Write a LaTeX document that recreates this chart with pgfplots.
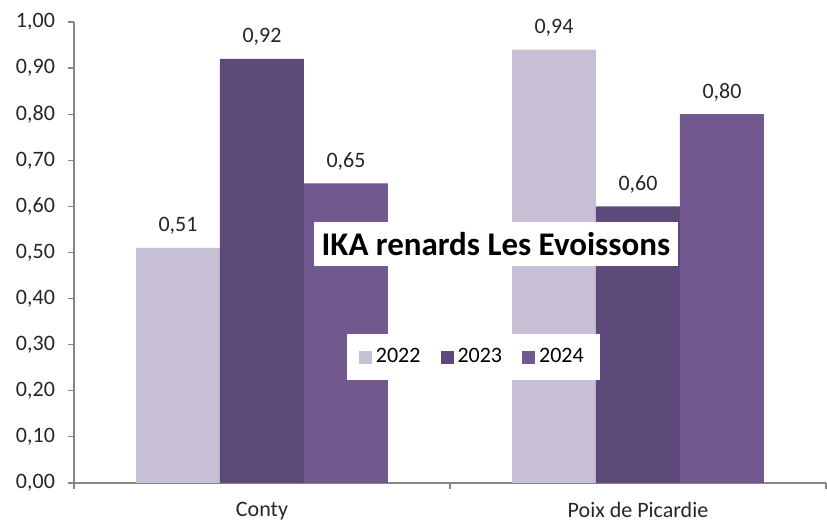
\documentclass[border=0pt]{standalone}
\usepackage{fontspec}
\setmainfont{Carlito}
\usepackage{pgfplots}
\pgfplotsset{compat=1.18}
\definecolor{c22}{HTML}{C7BFD6}
\definecolor{c23}{HTML}{5E4A7A}
\definecolor{c24}{HTML}{71588F}
\definecolor{axgray}{HTML}{868686}
\begin{document}
\begin{tikzpicture}
\path[use as bounding box] (-37pt,-19.5pt) rectangle (376.5pt,241.5pt);
\begin{axis}[
  at={(0,0)}, anchor=south west,
  scale only axis, width=376pt, height=230.5pt,
  xmin=-0.5, xmax=1.5, ymin=0, ymax=1,
  axis lines*=left,
  axis line style={axgray, line width=0.6pt},
  tick align=outside,
  xtick={0,1}, xticklabels={Conty, Poix de Picardie},
  major x tick style={draw=none},
  minor xtick={-0.5,0.5,1.5},
  minor tick length=3pt,
  major tick length=3pt,
  tick style={axgray, line width=0.6pt},
  ytick={0,0.1,0.2,0.3,0.4,0.5,0.6,0.7,0.8,0.9,1.0},
  y tick label style={/pgf/number format/fixed, /pgf/number format/fixed zerofill, /pgf/number format/precision=2, /pgf/number format/use comma, /pgf/number format/assume math mode=true, xshift=-3pt},
  ticklabel style={font=\fontsize{11}{13}\selectfont, text=black!85},
  xticklabel style={yshift=-3pt},
  nodes near coords={\pgfmathprintnumber[fixed,fixed zerofill,precision=2,use comma,assume math mode=true]{\pgfplotspointmeta}},
  every node near coord/.append style={font=\fontsize{11}{13}\selectfont, text=black!85, anchor=south, yshift=3pt},
  legend columns=3,
  legend image code/.code={\fill[#1] (0pt,-3.2pt) rectangle (6.5pt,3.2pt);},
  legend style={at={(rel axis cs:0.531,0.273)}, anchor=center, draw=none, fill=white,
    font=\fontsize{11}{13}\selectfont, inner xsep=6pt, inner ysep=5pt,
    /tikz/every even column/.append style={column sep=8pt}},
]
\addplot[ybar, bar width=0.2234, bar shift=-0.2234, fill=c22, draw=none,
  every node near coord/.append style={xshift=-42pt}] coordinates {(0,0.51) (1,0.94)};
\addplot[ybar, bar width=0.2234, bar shift=0, fill=c23, draw=none] coordinates {(0,0.92) (1,0.60)};
\addplot[ybar, bar width=0.2234, bar shift=0.2234, fill=c24, draw=none,
  every node near coord/.append style={xshift=42pt}] coordinates {(0,0.65) (1,0.80)};
\legend{2022,2023,2024}
\node[fill=white, font=\bfseries\fontsize{16.5}{19}\selectfont, inner xsep=4pt, inner ysep=5pt] at (rel axis cs:0.561,0.518) {IKA renards Les Evoissons};
\end{axis}
\end{tikzpicture}
\end{document}
